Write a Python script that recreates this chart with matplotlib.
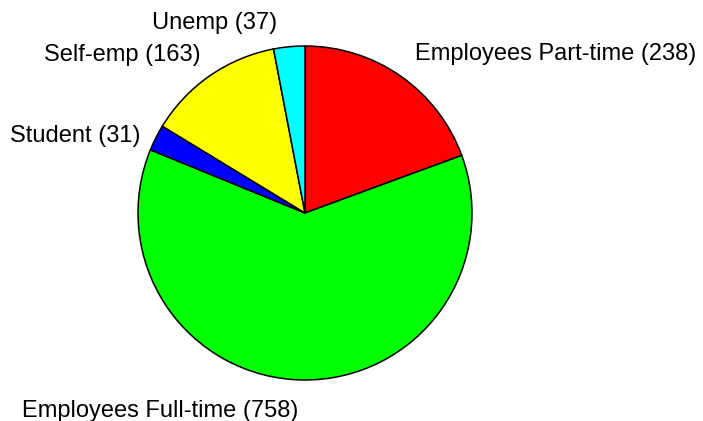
import matplotlib.pyplot as plt

labels = ["Employees Part-time", "Employees Full-time", "Student", "Self-emp", "Unemp"]
counts = [238, 758, 31, 163, 37]
colors = ["#ff0000", "#00ff00", "#0000ff", "#ffff00", "#00ffff"]

# small label nudges (data units) on top of labeldistance=1.1
nudges = [(0.03, 0.05), (-0.02, -0.088), (0.0, -0.035), (0.0, 0.045), (-0.06, 0.04)]

plt.rcParams['font.family'] = ['Liberation Sans', 'DejaVu Sans']

fig = plt.figure(figsize=(7.03, 4.21), dpi=100)
ax = fig.add_axes([0, 0, 1, 1])

texts = ["%s (%d)" % (l, c) for l, c in zip(labels, counts)]
wedges, lbls = ax.pie(counts, labels=texts, colors=colors, startangle=90,
                      counterclock=False, labeldistance=1.1,
                      wedgeprops=dict(edgecolor='black', linewidth=1.1),
                      textprops=dict(fontsize=17))

for t, (dx, dy) in zip(lbls, nudges):
    x, y = t.get_position()
    t.set_position((x + dx, y + dy))

# 1 data unit = 167 px, centre at (305, 213) px from top-left
r = 167.0
ax.set_xlim(-305 / r, (703 - 305) / r)
ax.set_ylim(-(421 - 213) / r, 213 / r)
ax.axis('off')

fig.savefig("out.png", dpi=100)
